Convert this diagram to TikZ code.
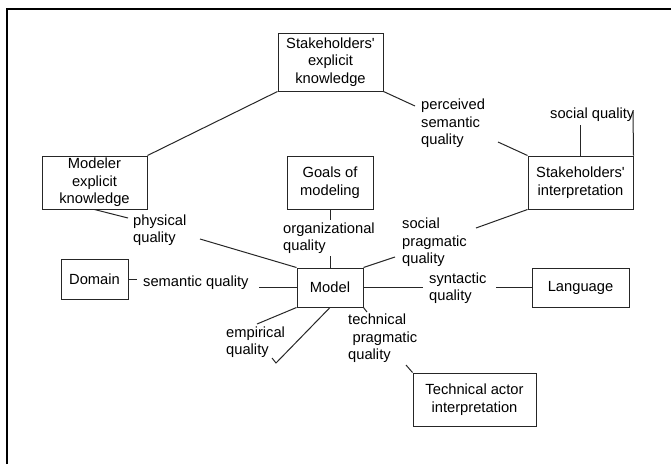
\documentclass[tikz,border=0pt]{standalone}
\usepackage{fontspec}
\setmainfont{Liberation Sans}

\begin{document}
\begin{tikzpicture}[x=1pt,y=-1pt,
    every node/.style={font=\fontsize{14.7}{17.5}\selectfont},
    box/.style={draw=black!85,line width=1pt,align=center,inner sep=0pt},
    qual/.style={anchor=west,align=left,inner sep=0pt},
    link/.style={draw=black!85,line width=1pt}]
    \useasboundingbox (0,0) rectangle (671,464);
    \draw[line width=1.6pt] (7,464) -- (7,9) -- (671,9);

    \node[box,minimum width=105pt,minimum height=58pt] (sek) at (330.5,62) {Stakeholders\textquotesingle\\explicit\\knowledge};
    \node[box,minimum width=105pt,minimum height=53pt] (mek) at (94.5,182.5) {Modeler\\explicit\\knowledge};
    \node[box,minimum width=86pt,minimum height=53pt] (goals) at (330,182.5) {Goals of\\modeling};
    \node[box,minimum width=105pt,minimum height=53pt] (si) at (580.5,182.5) {Stakeholders\textquotesingle\\interpretation};
    \node[box,minimum width=67pt,minimum height=40pt] (domain) at (94.5,279) {Domain};
    \node[box,minimum width=66pt,minimum height=39pt] (model) at (330,287.5) {Model};
    \node[box,minimum width=97pt,minimum height=39pt] (lang) at (580.5,287.5) {Language};
    \node[box,minimum width=123pt,minimum height=53pt] (tai) at (474.5,399.5) {Technical actor\\interpretation};

    \node[qual] (phys) at (133,230) {physical\\quality};
    \node[qual] (org) at (283,238) {organizational\\quality};
    \node[qual] (psem) at (421,123.5) {perceived\\semantic\\quality};
    \node[qual] (soc) at (550,115) {social quality};
    \node[qual] (spr) at (402,242.5) {social\\pragmatic\\quality};
    \node[qual] (sem) at (143,283) {semantic quality};
    \node[qual] (syn) at (429,288) {syntactic\\quality};
    \node[qual] (emp) at (226,342) {empirical\\quality};
    \node[qual] (tpr) at (348,338.5) {technical\\\hspace*{0.3em}pragmatic\\quality};

    % free ends of the connectors
    \coordinate (psem-a) at (415,106);
    \coordinate (psem-b) at (498,142);
    \coordinate (soc-a) at (580.5,125);
    \coordinate (soc-b) at (633,112);
    \coordinate (spr-a) at (476,228);
    \coordinate (spr-b) at (395,257);
    \coordinate (phys-a) at (128,218);
    \coordinate (phys-b) at (200,239);
    \coordinate (org-a) at (330,220);
    \coordinate (org-b) at (330,256);
    \coordinate (sem-a) at (137,279);
    \coordinate (sem-b) at (259,287.5);
    \coordinate (syn-a) at (423,287.5);
    \coordinate (syn-b) at (496,287.5);
    \coordinate (emp-a) at (257,324);
    \coordinate (emp-b) at (276,363);
    \coordinate (emp-c) at (272,358);
    \coordinate (tpr-a) at (367,312);
    \coordinate (tpr-b) at (406,365);

    \draw[link] (sek.south west) -- (mek.north east);
    \draw[link] (sek.south east) -- (psem-a);
    \draw[link] (psem-b) -- (si.north west);
    \draw[link] (si.north) -- (soc-a);
    \draw[link] (si.north east) -- (soc-b);
    \draw[link] (si.south west) -- (spr-a);
    \draw[link] (spr-b) -- (model.north east);
    \draw[link] (mek.south) -- (phys-a);
    \draw[link] (phys-b) -- (model.north west);
    \draw[link] (goals.south) -- (org-a);
    \draw[link] (org-b) -- (model.north);
    \draw[link] (domain.east) -- (sem-a);
    \draw[link] (sem-b) -- (model.west);
    \draw[link] (model.east) -- (syn-a);
    \draw[link] (syn-b) -- (lang.west);
    \draw[link] (model.south west) -- (emp-a);
    \draw[link] (model.south) -- (emp-b) -- (emp-c);
    \draw[link] (model.south east) -- (tpr-a);
    \draw[link] (tpr-b) -- (tai.north west);
\end{tikzpicture}
\end{document}
